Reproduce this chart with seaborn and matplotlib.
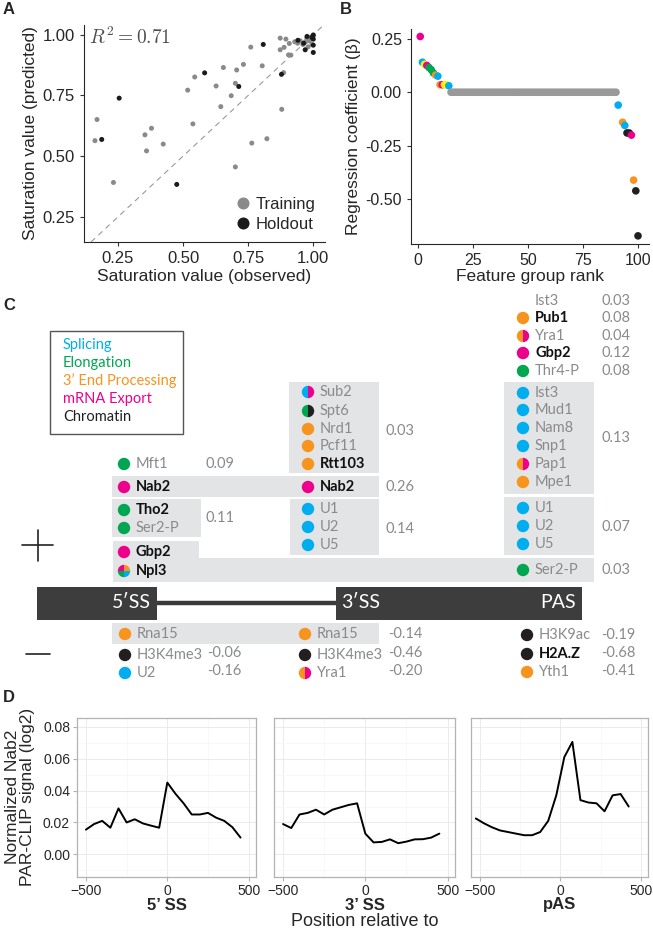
import matplotlib
matplotlib.use("Agg")
import matplotlib.pyplot as plt
from matplotlib.patches import Rectangle, Circle, Wedge
from matplotlib.ticker import MultipleLocator
import numpy as np
import pandas as pd
import seaborn as sns

W, H = 653, 931

# ---------------- panel A: observed vs predicted saturation
train_obs = [0.162, 0.170, 0.233, 0.354, 0.379, 0.360, 0.424, 0.518, 0.545, 0.538,
             0.627, 0.655, 0.645, 0.685, 0.706, 0.701, 0.732, 0.701, 0.764, 0.760,
             0.804, 0.822, 0.879, 0.886, 0.873, 0.895, 0.873, 0.888, 0.905, 0.914,
             0.908, 0.929, 0.940, 0.950, 0.960, 0.970, 0.975, 0.985, 0.990, 0.995,
             1.000, 0.980]
train_pred = [0.564, 0.651, 0.392, 0.588, 0.615, 0.522, 0.550, 0.772, 0.826, 0.633,
              0.789, 0.865, 0.704, 0.749, 0.855, 0.800, 0.878, 0.456, 0.554, 0.949,
              0.872, 0.572, 0.693, 0.844, 0.986, 0.982, 0.938, 0.948, 0.917, 0.916,
              0.964, 0.971, 0.965, 0.975, 0.960, 0.970, 0.985, 0.975, 0.990, 0.960,
              0.995, 0.950]
hold_obs = [0.188, 0.255, 0.476, 0.583, 0.714, 0.808, 0.878, 0.941, 0.963, 0.969,
            0.976, 0.995, 1.000, 1.000, 1.000, 1.000]
hold_pred = [0.569, 0.739, 0.384, 0.843, 0.787, 0.960, 0.837, 0.977, 0.965, 0.938,
             0.993, 0.989, 0.999, 0.982, 0.957, 0.927]
r2_text = r"$R^2 = 0.71$"

# ---------------- panel B: regression coefficients by rank
pos_rank = list(range(1, 15))
pos_beta = [0.26, 0.14, 0.13, 0.125, 0.115, 0.105, 0.09, 0.08, 0.075,
            0.035, 0.035, 0.035, 0.035, 0.03]
pos_group = ["X", "S", "Y", "X", "E", "E", "E", "P", "S", "P", "X", "Y", "Y", "S"]
zero_rank = list(range(15, 91))
neg_rank = [91, 93, 94, 95, 96, 97, 98, 99, 100]
neg_beta = [-0.06, -0.14, -0.155, -0.19, -0.19, -0.20, -0.41, -0.46, -0.67]
neg_group = ["S", "P", "S", "C", "C", "X", "P", "C", "C"]

# ---------------- panel C: model features around the gene
cat_color = {"S": "#00aeef", "E": "#00a651", "P": "#f7941d", "X": "#ec008c",
             "C": "#231f20", "Y": "#fff200", "Z": "#999999"}
legend_names = ["Splicing", "Elongation", "3\u2019 End Processing", "mRNA Export", "Chromatin"]
legend_cats = ["S", "E", "P", "X", "C"]

ss5_names = ["Mft1", "Nab2", "Tho2", "Ser2-P", "Gbp2", "Npl3"]
ss5_cats = [["E"], ["X"], ["E"], ["E"], ["X"], ["X", "P", "E", "S"]]
ss5_bold = [False, True, True, False, True, True]
ss5_vals = ["0.09", "0.11"]

ss3_names = ["Sub2", "Spt6", "Nrd1", "Pcf11", "Rtt103", "Nab2", "U1", "U2", "U5"]
ss3_cats = [["S", "X"], ["E", "C"], ["P"], ["P"], ["P"], ["X"], ["S"], ["S"], ["S"]]
ss3_bold = [False, False, False, False, True, True, False, False, False]
ss3_vals = ["0.03", "0.26", "0.14"]

pas_names = ["Ist3", "Pub1", "Yra1", "Gbp2", "Thr4-P", "Ist3", "Mud1", "Nam8", "Snp1",
             "Pap1", "Mpe1", "U1", "U2", "U5", "Ser2-P"]
pas_cats = [[], ["P"], ["P", "X"], ["X"], ["E"], ["S"], ["S"], ["S"], ["S"],
            ["P", "X"], ["P"], ["S"], ["S"], ["S"], ["E"]]
pas_bold = [False, True, False, True, False, False, False, False, False,
            False, False, False, False, False, False]
pas_vals = ["0.03", "0.08", "0.04", "0.12", "0.08", "0.13", "0.07", "0.03"]

neg5_names = ["Rna15", "H3K4me3", "U2"]
neg5_cats = [["P"], ["C"], ["S"]]
neg5_vals = ["-0.06", "-0.16"]
neg3_names = ["Rna15", "H3K4me3", "Yra1"]
neg3_cats = [["P"], ["C"], ["P", "X"]]
neg3_vals = ["-0.14", "-0.46", "-0.20"]
negp_names = ["H3K9ac", "H2A.Z", "Yth1"]
negp_cats = [["C"], ["C"], ["P"]]
negp_bold = [False, True, False]
negp_vals = ["-0.19", "-0.68", "-0.41"]

# ---------------- panel D: Nab2 PAR-CLIP metagene
facet_titles = ["5\u2019 SS", "3\u2019 SS", "pAS"]
pos_5ss = list(range(-500, 451, 50))
sig_5ss = [0.0155, 0.019, 0.021, 0.0167, 0.0288, 0.020, 0.022, 0.0194, 0.018, 0.0167,
           0.045, 0.038, 0.032, 0.025, 0.025, 0.026, 0.023, 0.021, 0.017, 0.0105]
pos_3ss = list(range(-500, 451, 50))
sig_3ss = [0.019, 0.0165, 0.025, 0.026, 0.028, 0.025, 0.028, 0.0295, 0.031, 0.032,
           0.013, 0.0075, 0.0078, 0.0094, 0.007, 0.008, 0.0094, 0.0095, 0.0105, 0.013]
pos_pas = list(range(-525, 426, 50))
sig_pas = [0.0225, 0.0195, 0.017, 0.015, 0.014, 0.013, 0.012, 0.012, 0.014, 0.021,
           0.037, 0.061, 0.0705, 0.034, 0.0325, 0.032, 0.027, 0.037, 0.0378, 0.030]

# ---------------- style
sns.set_style("ticks")
plt.rcParams["font.family"] = ["Liberation Sans", "DejaVu Sans"]
plt.rcParams["mathtext.fontset"] = "cm"
CFONT = ["Lato", "DejaVu Sans"]
NAME_GRAY = "#8a8a8a"
BOX_GRAY = "#e3e4e5"

fig = plt.figure(figsize=(W / 100, H / 100), dpi=100)


def rect(l, t, r, b):
    return [l / W, 1 - b / H, (r - l) / W, (b - t) / H]


# overlay axes in pixel coordinates for panel C and panel letters
ov = fig.add_axes([0, 0, 1, 1])
ov.set_xlim(0, W)
ov.set_ylim(H, 0)
ov.axis("off")

for lab, x, y in [("A", 3, 9), ("B", 340, 9), ("C", 3, 305), ("D", 3, 698)]:
    ov.text(x, y, lab, fontsize=12, fontweight="bold", va="center", ha="left")

# ---- A
axA = fig.add_axes(rect(84, 25, 325, 242))
dfA = pd.DataFrame({
    "obs": train_obs + hold_obs,
    "pred": train_pred + hold_pred,
    "set": ["Training"] * len(train_obs) + ["Holdout"] * len(hold_obs),
})
sns.scatterplot(data=dfA, x="obs", y="pred", hue="set",
                palette={"Training": "#8a8a8a", "Holdout": "#1a1a1a"},
                s=13, linewidth=0, ax=axA, zorder=3)
axA.axline((0, 0), (1, 1), color="#9a9a9a", lw=0.8, dashes=(5, 4), zorder=1)
axA.set_xlim(0.12, 1.045)
axA.set_ylim(0.147, 1.04)
axA.set_xticks([0.25, 0.5, 0.75, 1.0])
axA.set_yticks([0.25, 0.5, 0.75, 1.0])
axA.tick_params(labelsize=12, length=3, color="#333333")
axA.set_xlabel("Saturation value (observed)", fontsize=12.5, labelpad=2)
axA.set_ylabel("Saturation value (predicted)", fontsize=12.5, labelpad=3)
axA.text(0.14, 0.99, r2_text, fontsize=14, color="#4d4d4d", va="center", ha="left")
axA.legend(frameon=False, fontsize=12, loc="lower right", markerscale=2.4,
           handletextpad=0.1, borderaxespad=0.2, labelspacing=0.3, handlelength=1.2)
sns.despine(ax=axA)

# ---- B
axB = fig.add_axes(rect(411, 29, 649, 244))
dfB = pd.DataFrame({
    "rank": pos_rank + zero_rank + neg_rank,
    "beta": pos_beta + [0.0] * len(zero_rank) + neg_beta,
    "group": pos_group + ["Z"] * len(zero_rank) + neg_group,
})
sns.scatterplot(data=dfB, x="rank", y="beta", hue="group", palette=cat_color,
                s=30, linewidth=0, ax=axB, legend=False)
axB.set_xlim(-3.2, 105)
axB.set_ylim(-0.708, 0.295)
axB.set_xticks([0, 25, 50, 75, 100])
axB.set_yticks([0.25, 0.0, -0.25, -0.5])
axB.set_yticklabels(["0.25", "0.00", "-0.25", "-0.50"])
axB.tick_params(labelsize=11.5, length=3, color="#333333")
axB.set_xlabel("Feature group rank", fontsize=12.5, labelpad=1)
axB.set_ylabel("Regression coefficient (\u03b2)", fontsize=12.5, labelpad=3)
sns.despine(ax=axB)

# ---- C


def dot(x, y, cats, r=6.2):
    cols = [cat_color[c] for c in cats]
    if len(cols) == 1:
        ov.add_patch(Circle((x, y), r, color=cols[0], lw=0))
    elif len(cols) == 2:
        ov.add_patch(Wedge((x, y), r, 90, 270, color=cols[0], lw=0))
        ov.add_patch(Wedge((x, y), r, 270, 450, color=cols[1], lw=0))
    elif len(cols) == 4:
        # y runs downwards here, so 180-270 is the upper left quarter
        for (a0, a1), c in zip([(180, 270), (270, 360), (90, 180), (0, 90)], cols):
            ov.add_patch(Wedge((x, y), r, a0, a1, color=c, lw=0))


def row(xd, y, name, cats, bold=False):
    if cats:
        dot(xd, y, cats)
    ov.text(xd + 12, y, name, fontsize=10.5, family=CFONT, va="center", ha="left",
            fontweight="bold" if bold else "normal",
            color="#111111" if bold else NAME_GRAY)


def val(x, y, s):
    ov.text(x, y, s, fontsize=10.5, family=CFONT, va="center", ha="left", color=NAME_GRAY)


def box(l, t, r, b):
    ov.add_patch(Rectangle((l, t), r - l, b - t, color=BOX_GRAY, lw=0, zorder=0))


# legend box
ov.add_patch(Rectangle((50, 331), 133, 103, fill=False, ec="#555555", lw=1))
for i, (nm, c) in enumerate(zip(legend_names, legend_cats)):
    ov.text(63, 345 + 18 * i, nm, fontsize=10.5, family=CFONT, va="center",
            ha="left", color=cat_color[c])

# grey groupings
box(112, 476, 379, 497)
box(112, 499, 201, 537)
box(113, 541, 199, 558)
box(113, 558, 594, 582)
box(289, 382, 379, 473)
box(290, 499, 379, 555)
box(504, 382, 594, 494)
box(504, 497, 594, 555)
box(112, 623, 379, 644)

ss5_y = [464, 487, 510, 528, 552, 571]
for y, nm, c, b in zip(ss5_y, ss5_names, ss5_cats, ss5_bold):
    row(124, y, nm, c, b)
for y, v in zip([464, 518], ss5_vals):
    val(205, y, v)

ss3_y = [392, 411, 429, 446, 464, 487, 509, 527, 545]
for y, nm, c, b in zip(ss3_y, ss3_names, ss3_cats, ss3_bold):
    row(308, y, nm, c, b)
for y, v in zip([431, 487, 529], ss3_vals):
    val(386, y, v)

pas_y = [301, 318, 336, 353, 371, 393, 410, 428, 446, 464, 482, 508, 526, 544, 570]
for y, nm, c, b in zip(pas_y, pas_names, pas_cats, pas_bold):
    row(523, y, nm, c, b)
for y, v in zip([301, 318, 336, 353, 371, 438, 527, 570], pas_vals):
    val(602, y, v)

# gene model
ov.plot([157, 336], [603, 603], color="#3a3a3a", lw=3.2, solid_capstyle="butt")
ov.add_patch(Rectangle((37, 587), 120, 33, color="#3d3d3d", lw=0))
ov.add_patch(Rectangle((336, 587), 246, 33, color="#3d3d3d", lw=0))
ov.text(151, 603, "5\u2032SS", color="white", fontsize=14, family=CFONT, ha="right", va="center")
ov.text(341, 603, "3\u2032SS", color="white", fontsize=14, family=CFONT, ha="left", va="center")
ov.text(576, 603, "PAS", color="white", fontsize=14, family=CFONT, ha="right", va="center")

# + / - signs
ov.plot([22, 53], [545, 545], color="#222222", lw=1.2)
ov.plot([37.5, 37.5], [530, 561], color="#222222", lw=1.2)
ov.plot([26, 50], [654, 654], color="#222222", lw=1.2)

neg_y = [634, 655, 673]
for y, nm, c in zip(neg_y, neg5_names, neg5_cats):
    row(125, y, nm, c)
for y, v in zip([653, 671], neg5_vals):
    val(207, y, v)
for y, nm, c in zip(neg_y, neg3_names, neg3_cats):
    row(305, y, nm, c)
for y, v in zip([634, 653, 671], neg3_vals):
    val(388, y, v)
for y, nm, c, b in zip([635, 654, 672], negp_names, negp_cats, negp_bold):
    row(527, y, nm, c, b)
for y, v in zip([635, 653, 671], negp_vals):
    val(601, y, v)

# ---- D
d_bounds = [(77, 256), (274, 455), (471, 648)]
d_data = [(pos_5ss, sig_5ss), (pos_3ss, sig_3ss), (pos_pas, sig_pas)]
for i, ((l, r), (xs, ys), title) in enumerate(zip(d_bounds, d_data, facet_titles)):
    ax = fig.add_axes(rect(l, 718, r, 877))
    sns.lineplot(x=xs, y=ys, ax=ax, color="black", lw=1.4)
    ax.set_xlim(-555, 545)
    ax.set_ylim(-0.0142, 0.0855)
    ax.set_xticks([-500, 0, 500])
    ax.set_xticklabels(["\u2212500", "0", "500"])
    ax.xaxis.set_minor_locator(MultipleLocator(250))
    ax.set_yticks([0.0, 0.02, 0.04, 0.06, 0.08])
    ax.yaxis.set_minor_locator(MultipleLocator(0.01))
    ax.grid(which="major", color="#ebebeb", lw=0.7)
    ax.grid(which="minor", color="#f5f5f5", lw=0.5)
    ax.set_axisbelow(True)
    for sp in ax.spines.values():
        sp.set_color("#b3b3b3")
        sp.set_linewidth(0.9)
    ax.tick_params(which="major", labelsize=10, length=3, color="#b3b3b3", pad=2)
    ax.tick_params(which="minor", length=0)
    if i > 0:
        ax.tick_params(axis="y", left=False, labelleft=False)
    else:
        ax.set_yticklabels(["0.00", "0.02", "0.04", "0.06", "0.08"])
    ax.set_xlabel("")
    ax.set_ylabel("")
    ov.text((l + r) / 2, 905, title, fontsize=12, fontweight="bold", ha="center", va="center")

ov.text(365, 921, "Position relative to", fontsize=13, ha="center", va="center")
ov.text(20, 797, "Normalized Nab2\nPAR-CLIP signal (log2)", fontsize=12.5, rotation=90,
        ha="center", va="center", linespacing=1.0)

fig.savefig("out.png", dpi=100)
